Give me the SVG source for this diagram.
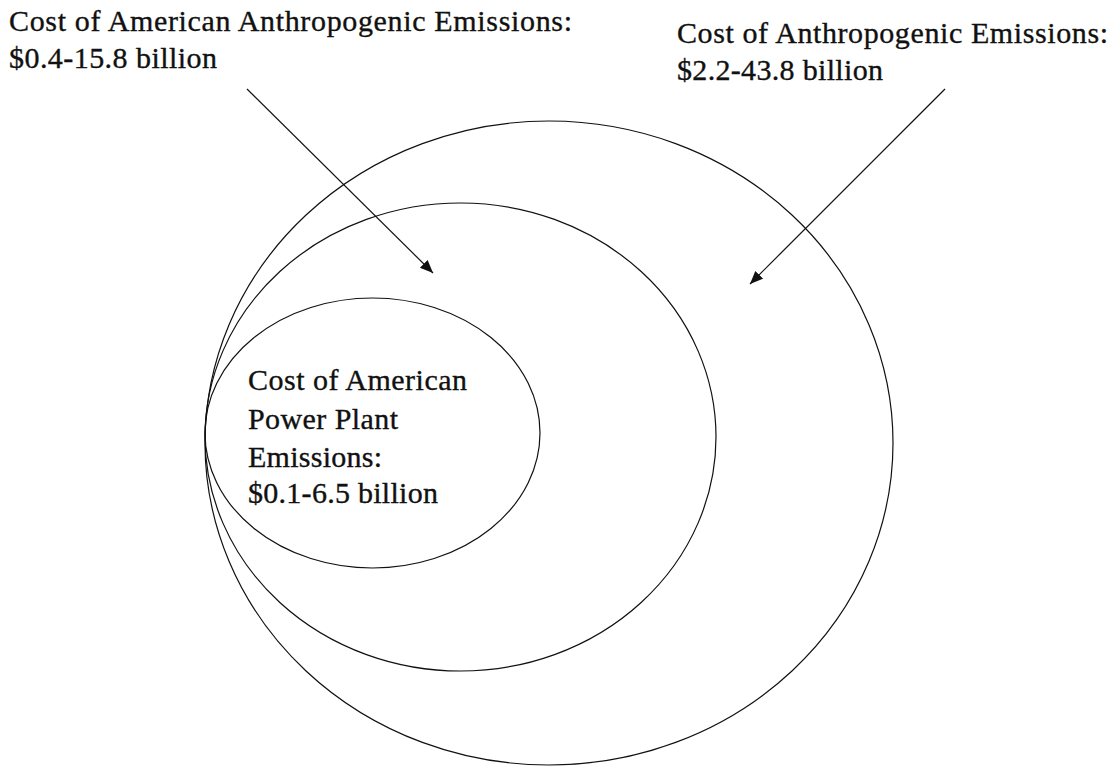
<svg xmlns="http://www.w3.org/2000/svg" width="1114" height="768" viewBox="0 0 1114 768">
  <style>
    .lbl { font-family: "Liberation Serif", "Times New Roman", serif; font-size: 30px; fill: #111; stroke: #111; stroke-width: 0.35; }
    .shape { fill: none; stroke: #111; stroke-width: 1.2; }
    .conn { fill: none; stroke: #111; stroke-width: 1.2; }
  </style>
  <defs>
    <marker id="arrow" markerUnits="userSpaceOnUse" markerWidth="16" markerHeight="12" refX="13" refY="5.5" orient="auto">
      <path d="M0,0 L13,5.5 L0,11 Z" fill="#111"/>
    </marker>
  </defs>
  <rect x="0" y="0" width="1114" height="768" fill="#fff"/>

  <g id="outer">
    <ellipse class="shape" cx="549" cy="443" rx="344" ry="322"/>
  </g>
  <g id="middle">
    <ellipse class="shape" cx="460.5" cy="437" rx="255.5" ry="234"/>
  </g>
  <g id="inner">
    <ellipse class="shape" cx="372.5" cy="433" rx="167.5" ry="135"/>
    <text class="lbl" x="248" y="390" textLength="219" lengthAdjust="spacing">Cost of American</text>
    <text class="lbl" x="248" y="429" textLength="150" lengthAdjust="spacing">Power Plant</text>
    <text class="lbl" x="248" y="467" textLength="134" lengthAdjust="spacing">Emissions:</text>
    <text class="lbl" x="248" y="503" textLength="190" lengthAdjust="spacing">$0.1-6.5 billion</text>
  </g>
  <g id="label-american">
    <text class="lbl" x="9" y="31" textLength="563" lengthAdjust="spacing">Cost of American Anthropogenic Emissions:</text>
    <text class="lbl" x="9" y="68" textLength="208" lengthAdjust="spacing">$0.4-15.8 billion</text>
  </g>
  <g id="label-all">
    <text class="lbl" x="677" y="43" textLength="431" lengthAdjust="spacing">Cost of Anthropogenic Emissions:</text>
    <text class="lbl" x="677" y="80" textLength="206" lengthAdjust="spacing">$2.2-43.8 billion</text>
  </g>

  <g id="connectors">
    <line class="conn" x1="247" y1="89" x2="433" y2="273" marker-end="url(#arrow)"/>
    <line class="conn" x1="945" y1="89" x2="750" y2="284" marker-end="url(#arrow)"/>
  </g>
</svg>
